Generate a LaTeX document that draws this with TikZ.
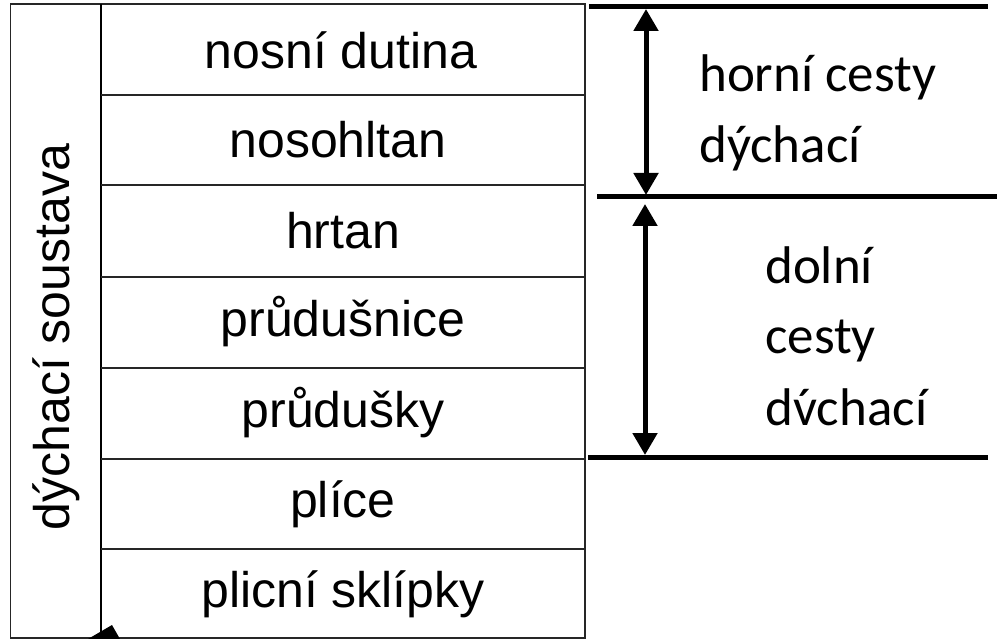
\documentclass[tikz,border=0pt]{standalone}
\usepackage{fontspec}
\setmainfont{Liberation Sans}
\newfontfamily\calib{Carlito}
\usetikzlibrary{arrows.meta}
\newcommand\vacute{\ooalign{v\cr\hidewidth\char"00B4\hidewidth}}
\begin{document}
\begin{tikzpicture}[x=1pt,y=-1pt,
  thin line/.style={line width=1.3pt,black!85},
  thick rule/.style={line width=5pt,black},
  span arrow/.style={line width=5pt,{Triangle[width=24pt,length=22pt]}-{Triangle[width=24pt,length=22pt]}},
  cell/.style={inner sep=0pt,anchor=center,font=\fontsize{50}{60}\selectfont},
  side/.style={inner sep=0pt,anchor=base west,font=\calib\fontsize{53}{64}\selectfont}]
\useasboundingbox (0,0) rectangle (1001,639);
% table frame
\draw[thin line] (10.5,4) rectangle (585,638);
\draw[line width=2.6pt] (101,4) -- (101,632);
\foreach \y in {95,185,277,368,459,549}
  \draw[thin line] (101,\y) -- (585,\y);
% cells
\node[cell] (r1) at (341,50) {nosní dutina};
\node[cell] (r2) at (338,140) {nosohltan};
\node[cell] (r3) at (343,231) {hrtan};
\node[cell] (r4) at (343,322) {průdušnice};
\node[cell] (r5) at (343,413) {průdušky};
\node[cell] (r6) at (343,504) {plíce};
\node[cell] (r7) at (343,594) {plicní sklípky};
\node[cell,rotate=90] (sys) at (56,337) {dýchací soustava};
% wedge at bottom-left
\fill (88,639) -- (112,625) -- (120,639) -- cycle;
% right rules
\coordinate (t1) at (589,6.5);  \coordinate (t2) at (988,6.5);
\coordinate (m1) at (597,197);  \coordinate (m2) at (997,197);
\coordinate (b1) at (588,457);  \coordinate (b2) at (988,457);
\draw[thick rule] (t1) -- (t2);
\draw[thick rule] (m1) -- (m2);
\draw[thick rule] (b1) -- (b2);
% arrows
\coordinate (a1t) at (646,9);   \coordinate (a1b) at (646,195);
\coordinate (a2t) at (645,204); \coordinate (a2b) at (645,455);
\draw[span arrow] (a1t) -- (a1b);
\draw[span arrow] (a2t) -- (a2b);
% labels
\node[side] (h1) at (699,92) {horní cesty};
\node[side] (h2) at (699,163) {dýchací};
\node[side] (d1) at (765,283) {dolní};
\node[side] (d2) at (765,353) {cesty};
\node[side] (d3) at (765,425) {d\vacute chací};
\end{tikzpicture}
\end{document}
